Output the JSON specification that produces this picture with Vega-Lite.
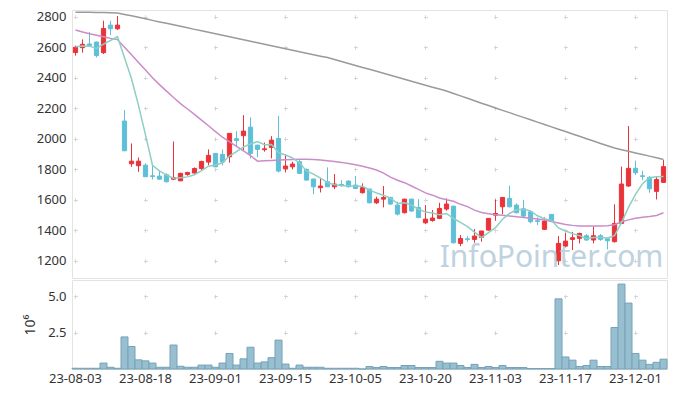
{
  "$schema": "https://vega.github.io/schema/vega-lite/v6.json",
  "padding": {"left": 23, "top": 8, "right": 9, "bottom": 5},
  "background": "white",
  "config": {
    "view": {"stroke": "#e3e3e3"},
    "font": "Noto Sans",
    "axis": {"labelFont": "Noto Sans", "labelFontSize": 13, "labelColor": "#333333", "gridColor": "#d6d6d6", "gridWidth": 1, "ticks": false, "domain": false, "titleFont": "Noto Sans", "labelOverlap": false}
  },
  "data": {"values": [
    {"d":"23-08-03","o":2565,"h":2610,"l":2545,"c":2600,"v":50000,"s":2603,"m":2713,"g":2830},
    {"d":"23-08-04","o":2597,"h":2651,"l":2564,"c":2619,"v":50000,"s":2608,"m":2700,"g":2829},
    {"d":"23-08-07","o":2621,"h":2700,"l":2608,"c":2612,"v":50000,"s":2607,"m":2688,"g":2829},
    {"d":"23-08-08","o":2634,"h":2636,"l":2533,"c":2545,"v":50000,"s":2592,"m":2678,"g":2828},
    {"d":"23-08-09","o":2564,"h":2774,"l":2555,"c":2723,"v":410000,"s":2620,"m":2668,"g":2827},
    {"d":"23-08-10","o":2745,"h":2774,"l":2680,"c":2721,"v":120000,"s":2644,"m":2658,"g":2826},
    {"d":"23-08-11","o":2721,"h":2804,"l":2712,"c":2745,"v":50000,"s":2669,"m":2650,"g":2825},
    {"d":"23-08-14","o":2116,"h":2188,"l":1920,"c":1921,"v":2210000,"s":2531,"m":2600,"g":2815},
    {"d":"23-08-16","o":1836,"h":1969,"l":1816,"c":1853,"v":1550000,"s":2393,"m":2550,"g":2806},
    {"d":"23-08-17","o":1823,"h":1877,"l":1783,"c":1853,"v":630000,"s":2219,"m":2500,"g":2796},
    {"d":"23-08-18","o":1827,"h":1838,"l":1750,"c":1751,"v":560000,"s":2025,"m":2450,"g":2786},
    {"d":"23-08-21","o":1757,"h":1827,"l":1733,"c":1753,"v":410000,"s":1826,"m":2400,"g":2776},
    {"d":"23-08-22","o":1755,"h":1790,"l":1733,"c":1735,"v":120000,"s":1789,"m":2355,"g":2766},
    {"d":"23-08-23","o":1764,"h":1773,"l":1713,"c":1718,"v":120000,"s":1762,"m":2312,"g":2757},
    {"d":"23-08-24","o":1735,"h":1982,"l":1729,"c":1746,"v":1650000,"s":1741,"m":2270,"g":2747},
    {"d":"23-08-25","o":1724,"h":1777,"l":1724,"c":1773,"v":190000,"s":1745,"m":2230,"g":2737},
    {"d":"23-08-28","o":1766,"h":1783,"l":1757,"c":1779,"v":120000,"s":1750,"m":2195,"g":2727},
    {"d":"23-08-29","o":1775,"h":1812,"l":1773,"c":1805,"v":120000,"s":1764,"m":2160,"g":2717},
    {"d":"23-08-30","o":1805,"h":1856,"l":1792,"c":1851,"v":270000,"s":1791,"m":2122,"g":2708},
    {"d":"23-08-31","o":1847,"h":1930,"l":1827,"c":1891,"v":270000,"s":1820,"m":2085,"g":2698},
    {"d":"23-09-01","o":1904,"h":1906,"l":1816,"c":1816,"v":120000,"s":1828,"m":2047,"g":2688},
    {"d":"23-09-04","o":1897,"h":1930,"l":1825,"c":1847,"v":410000,"s":1842,"m":2010,"g":2678},
    {"d":"23-09-05","o":1882,"h":2037,"l":1843,"c":2035,"v":1070000,"s":1888,"m":1980,"g":2668},
    {"d":"23-09-06","o":2000,"h":2050,"l":1947,"c":1988,"v":270000,"s":1915,"m":1950,"g":2659},
    {"d":"23-09-07","o":2020,"h":2155,"l":1926,"c":2050,"v":700000,"s":1947,"m":1920,"g":2649},
    {"d":"23-09-08","o":2076,"h":2140,"l":1871,"c":1904,"v":1500000,"s":1965,"m":1890,"g":2639},
    {"d":"23-09-11","o":1958,"h":1960,"l":1878,"c":1930,"v":410000,"s":1981,"m":1853,"g":2629},
    {"d":"23-09-12","o":1928,"h":1975,"l":1915,"c":1934,"v":490000,"s":1961,"m":1856,"g":2619},
    {"d":"23-09-13","o":1943,"h":2017,"l":1871,"c":1991,"v":780000,"s":1962,"m":1858,"g":2610},
    {"d":"23-09-14","o":2002,"h":2151,"l":1779,"c":1788,"v":1990000,"s":1909,"m":1860,"g":2600},
    {"d":"23-09-15","o":1803,"h":1897,"l":1779,"c":1821,"v":340000,"s":1893,"m":1862,"g":2590},
    {"d":"23-09-18","o":1816,"h":1849,"l":1799,"c":1834,"v":50000,"s":1874,"m":1864,"g":2580},
    {"d":"23-09-19","o":1849,"h":1860,"l":1768,"c":1773,"v":270000,"s":1841,"m":1866,"g":2570},
    {"d":"23-09-20","o":1799,"h":1805,"l":1725,"c":1729,"v":120000,"s":1789,"m":1866,"g":2561},
    {"d":"23-09-21","o":1736,"h":1736,"l":1637,"c":1685,"v":120000,"s":1768,"m":1864,"g":2551},
    {"d":"23-09-22","o":1679,"h":1740,"l":1648,"c":1690,"v":120000,"s":1742,"m":1860,"g":2541},
    {"d":"23-09-25","o":1718,"h":1812,"l":1685,"c":1685,"v":50000,"s":1712,"m":1855,"g":2532},
    {"d":"23-09-26","o":1685,"h":1768,"l":1670,"c":1703,"v":50000,"s":1698,"m":1850,"g":2519},
    {"d":"23-09-27","o":1700,"h":1729,"l":1685,"c":1697,"v":50000,"s":1692,"m":1845,"g":2506},
    {"d":"23-10-04","o":1722,"h":1729,"l":1681,"c":1685,"v":50000,"s":1692,"m":1838,"g":2493},
    {"d":"23-10-05","o":1696,"h":1755,"l":1670,"c":1674,"v":50000,"s":1689,"m":1830,"g":2480},
    {"d":"23-10-06","o":1646,"h":1707,"l":1641,"c":1679,"v":0,"s":1688,"m":1820,"g":2467},
    {"d":"23-10-10","o":1670,"h":1672,"l":1576,"c":1580,"v":170000,"s":1663,"m":1808,"g":2455},
    {"d":"23-10-11","o":1580,"h":1620,"l":1572,"c":1604,"v":100000,"s":1644,"m":1795,"g":2442},
    {"d":"23-10-12","o":1604,"h":1690,"l":1550,"c":1615,"v":170000,"s":1630,"m":1775,"g":2429},
    {"d":"23-10-13","o":1615,"h":1620,"l":1565,"c":1572,"v":100000,"s":1610,"m":1748,"g":2416},
    {"d":"23-10-16","o":1565,"h":1587,"l":1497,"c":1506,"v":100000,"s":1575,"m":1728,"g":2403},
    {"d":"23-10-17","o":1515,"h":1606,"l":1510,"c":1604,"v":240000,"s":1580,"m":1712,"g":2390},
    {"d":"23-10-18","o":1604,"h":1606,"l":1522,"c":1526,"v":240000,"s":1565,"m":1690,"g":2377},
    {"d":"23-10-19","o":1550,"h":1604,"l":1478,"c":1484,"v":100000,"s":1538,"m":1668,"g":2364},
    {"d":"23-10-20","o":1449,"h":1565,"l":1440,"c":1473,"v":100000,"s":1519,"m":1645,"g":2351},
    {"d":"23-10-23","o":1464,"h":1532,"l":1456,"c":1480,"v":100000,"s":1513,"m":1630,"g":2338},
    {"d":"23-10-24","o":1478,"h":1580,"l":1473,"c":1543,"v":530000,"s":1501,"m":1612,"g":2326},
    {"d":"23-10-25","o":1539,"h":1609,"l":1528,"c":1572,"v":410000,"s":1510,"m":1600,"g":2313},
    {"d":"23-10-26","o":1558,"h":1560,"l":1313,"c":1318,"v":410000,"s":1477,"m":1590,"g":2297},
    {"d":"23-10-27","o":1314,"h":1368,"l":1296,"c":1346,"v":240000,"s":1452,"m":1570,"g":2281},
    {"d":"23-10-30","o":1344,"h":1362,"l":1325,"c":1340,"v":100000,"s":1424,"m":1555,"g":2265},
    {"d":"23-10-31","o":1340,"h":1408,"l":1318,"c":1362,"v":320000,"s":1388,"m":1532,"g":2249},
    {"d":"23-11-01","o":1353,"h":1397,"l":1325,"c":1395,"v":100000,"s":1352,"m":1516,"g":2233},
    {"d":"23-11-02","o":1401,"h":1480,"l":1397,"c":1478,"v":170000,"s":1384,"m":1508,"g":2218},
    {"d":"23-11-03","o":1499,"h":1602,"l":1462,"c":1510,"v":100000,"s":1417,"m":1502,"g":2202},
    {"d":"23-11-06","o":1554,"h":1617,"l":1506,"c":1615,"v":240000,"s":1472,"m":1498,"g":2186},
    {"d":"23-11-07","o":1609,"h":1692,"l":1550,"c":1554,"v":100000,"s":1510,"m":1493,"g":2171},
    {"d":"23-11-08","o":1565,"h":1576,"l":1511,"c":1515,"v":100000,"s":1534,"m":1488,"g":2155},
    {"d":"23-11-09","o":1541,"h":1598,"l":1484,"c":1493,"v":100000,"s":1537,"m":1483,"g":2140},
    {"d":"23-11-10","o":1521,"h":1523,"l":1445,"c":1456,"v":30000,"s":1527,"m":1478,"g":2124},
    {"d":"23-11-13","o":1462,"h":1484,"l":1434,"c":1458,"v":30000,"s":1495,"m":1474,"g":2109},
    {"d":"23-11-14","o":1406,"h":1484,"l":1401,"c":1460,"v":30000,"s":1476,"m":1468,"g":2093},
    {"d":"23-11-15","o":1504,"h":1506,"l":1456,"c":1460,"v":30000,"s":1465,"m":1458,"g":2078},
    {"d":"23-11-16","o":1200,"h":1362,"l":1172,"c":1314,"v":4830000,"s":1415,"m":1448,"g":2062},
    {"d":"23-11-17","o":1296,"h":1384,"l":1288,"c":1329,"v":830000,"s":1395,"m":1438,"g":2047},
    {"d":"23-11-20","o":1340,"h":1390,"l":1270,"c":1351,"v":610000,"s":1378,"m":1432,"g":2031},
    {"d":"23-11-21","o":1347,"h":1384,"l":1314,"c":1379,"v":170000,"s":1365,"m":1428,"g":2016},
    {"d":"23-11-22","o":1364,"h":1375,"l":1331,"c":1336,"v":240000,"s":1345,"m":1428,"g":2000},
    {"d":"23-11-23","o":1336,"h":1423,"l":1314,"c":1364,"v":610000,"s":1352,"m":1428,"g":1985},
    {"d":"23-11-24","o":1364,"h":1375,"l":1331,"c":1340,"v":170000,"s":1352,"m":1428,"g":1969},
    {"d":"23-11-27","o":1344,"h":1346,"l":1274,"c":1331,"v":170000,"s":1350,"m":1430,"g":1954},
    {"d":"23-11-28","o":1325,"h":1570,"l":1320,"c":1445,"v":2860000,"s":1365,"m":1436,"g":1939},
    {"d":"23-11-29","o":1445,"h":1817,"l":1441,"c":1703,"v":5850000,"s":1450,"m":1456,"g":1928},
    {"d":"23-11-30","o":1690,"h":2083,"l":1685,"c":1806,"v":4540000,"s":1550,"m":1468,"g":1918},
    {"d":"23-12-01","o":1806,"h":1856,"l":1762,"c":1777,"v":1070000,"s":1635,"m":1478,"g":1907},
    {"d":"23-12-04","o":1757,"h":1790,"l":1729,"c":1753,"v":610000,"s":1705,"m":1485,"g":1896},
    {"d":"23-12-05","o":1747,"h":1755,"l":1646,"c":1672,"v":320000,"s":1745,"m":1490,"g":1886},
    {"d":"23-12-06","o":1655,"h":1755,"l":1602,"c":1733,"v":460000,"s":1750,"m":1497,"g":1875},
    {"d":"23-12-07","o":1714,"h":1860,"l":1712,"c":1817,"v":680000,"s":1752,"m":1515,"g":1864}
  ]},
  "spacing": 0,
  "vconcat": [
    {
      "width": 595,
      "height": 268,
      "encoding": {
        "x": {"field": "d", "type": "ordinal", "scale": {"paddingInner": 0, "paddingOuter": 0},
              "axis": {"values": ["23-08-03","23-08-18","23-09-01","23-09-15","23-10-05","23-10-20","23-11-03","23-11-17","23-12-01"],
                       "labels": false, "title": null, "grid": true, "gridDash": [4, 26.506], "gridDashOffset": 25.796}}
      },
      "layer": [
        {
          "mark": {"type": "rule", "strokeWidth": 1},
          "encoding": {
            "y": {"field": "l", "type": "quantitative", "scale": {"domain": [1087, 2844], "nice": false, "zero": false},
                  "axis": {"values": [1200,1400,1600,1800,2000,2200,2400,2600,2800], "tickCount": 20, "title": null, "format": "d", "labelPadding": 6,
                           "labelOverlap": false, "labelFlush": false,
                           "grid": true, "gridDash": [4, 66], "gridDashOffset": 68.5}},
            "y2": {"field": "h"},
            "color": {"condition": {"test": "datum.c >= datum.o", "value": "#ea3339"}, "value": "#5fbfd8"}
          }
        },
        {
          "mark": {"type": "bar", "width": {"band": 0.6}, "strokeWidth": 1},
          "encoding": {
            "y": {"field": "o", "type": "quantitative"},
            "y2": {"field": "c"},
            "fill": {"condition": {"test": "datum.c >= datum.o", "value": "#ea3339"}, "value": "#5fbfd8"},
            "stroke": {"condition": {"test": "datum.c >= datum.o", "value": "#ea3339"}, "value": "#5fbfd8"}
          }
        },
        {
          "mark": {"type": "line", "color": "#9a9a9a", "strokeWidth": 1.5},
          "encoding": {"y": {"field": "g", "type": "quantitative"}}
        },
        {
          "mark": {"type": "line", "color": "#cc8cc8", "strokeWidth": 1.5},
          "encoding": {"y": {"field": "m", "type": "quantitative"}}
        },
        {
          "mark": {"type": "line", "color": "#8ccfc3", "strokeWidth": 1.5},
          "encoding": {"y": {"field": "s", "type": "quantitative"}}
        },
        {
          "data": {"values": [{"t": "InfoPointer.com"}]},
          "mark": {"type": "text", "font": "Noto Sans", "fontSize": 30, "fill": "#adc6d8", "opacity": 0.78, "align": "center", "baseline": "alphabetic"},
          "encoding": {
            "x": {"datum": "23-11-15", "type": "ordinal"},
            "y": {"datum": 1161, "type": "quantitative"},
            "text": {"field": "t"}
          }
        }
      ]
    },
    {
      "width": 595,
      "height": 89,
      "mark": {"type": "bar", "fill": "#98bfcf", "stroke": "#74a2b8", "strokeWidth": 1, "width": {"band": 1}},
      "encoding": {
        "x": {"field": "d", "type": "ordinal", "scale": {"paddingInner": 0, "paddingOuter": 0},
              "axis": {"values": ["23-08-03","23-08-18","23-09-01","23-09-15","23-10-05","23-10-20","23-11-03","23-11-17","23-12-01"],
                       "title": null, "labelAngle": 0, "labelPadding": 3, "labelOverlap": false,
                       "grid": true, "gridDash": [4, 32.3], "gridDashOffset": 21.9}},
        "y": {"field": "v", "type": "quantitative", "scale": {"domain": [0, 6130000], "nice": false},
              "axis": {"values": [2500000, 5000000], "tickCount": 10, "labelExpr": "format(datum.value / 1000000, '.1f')", "labelPadding": 6,
                       "labelFlush": false,
                       "title": "10⁶", "titleFontSize": 14, "titleFontWeight": "normal", "titleColor": "#333333", "titlePadding": 10,
                       "grid": true, "gridDash": [4, 66], "gridDashOffset": 68.5}}
      }
    }
  ]
}
